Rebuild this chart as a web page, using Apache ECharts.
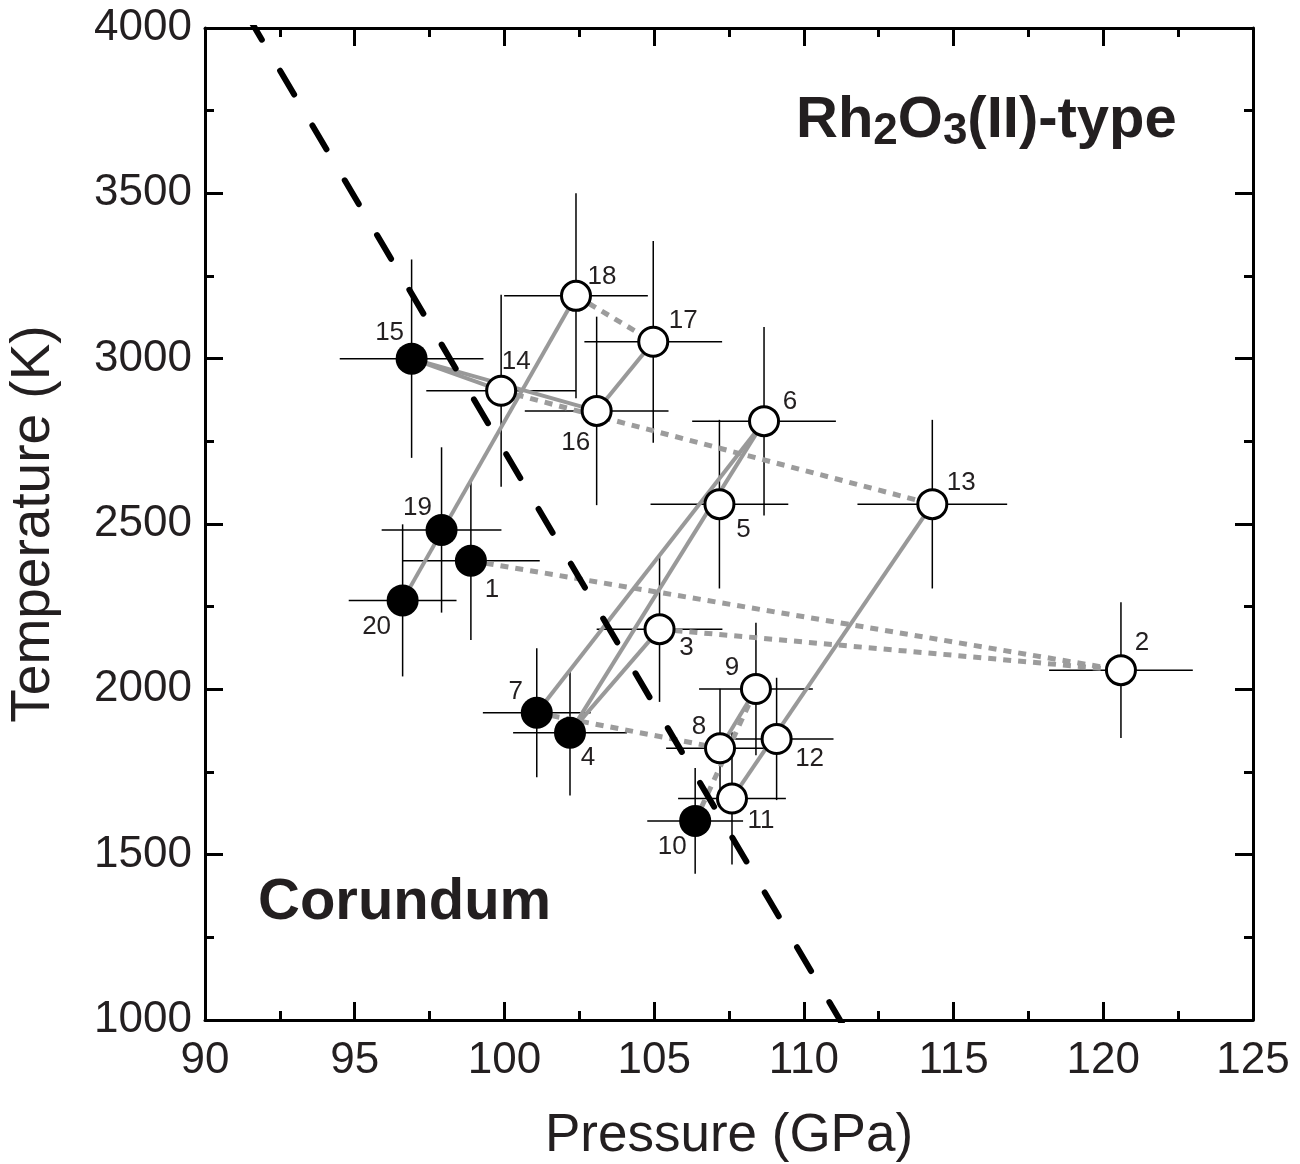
<!DOCTYPE html>
<html>
<head>
<meta charset="utf-8">
<script src="https://cdn.jsdelivr.net/npm/echarts/dist/echarts.min.js"></script>
<style>
  html, body { margin: 0; padding: 0; background: #fff; }
  #main { width: 1300px; height: 1164px; }
</style>
</head>
<body>
<div id="main"></div>
<script>
// run numbers
var runIds = [1, 2, 3, 4, 5, 6, 7, 8, 9, 10, 11, 12, 13, 14, 15, 16, 17, 18, 19, 20]
// pressure (GPa) and temperature (K)
var pressure = [98.88, 120.59, 105.18, 102.19, 107.18, 108.67, 101.08, 107.20, 108.40, 106.37,
  107.60, 109.09, 114.29, 99.89, 96.90, 103.08, 104.97, 102.39, 97.90, 96.60]
var temperature = [2389, 2058, 2182, 1869, 2560, 2811, 1929, 1822, 2001, 1602,
  1670, 1850, 2560, 2903, 3000, 2842, 3051, 3190, 2482, 2269]
// error bars
var pressureErr = [2.3, 2.4, 2.1, 1.9, 2.3, 2.4, 1.8, 1.8, 1.9, 1.6,
  1.8, 1.9, 2.5, 2.5, 2.4, 2.4, 2.3, 2.4, 2.0, 1.8]
var temperatureErr = [240, 205, 220, 190, 255, 285, 195, 180, 200, 160,
  200, 185, 255, 290, 300, 285, 305, 310, 250, 230]
// true = corundum (filled), false = Rh2O3(II) (open)
var isCorundum = [true, false, false, true, false, false, true, false, false, true,
  false, false, false, false, true, false, false, false, true, true]
// pairs of run numbers joined by lines
var solidLinks = [[15, 14], [15, 16], [20, 18], [16, 17], [7, 6], [4, 6], [4, 3], [8, 9], [11, 13]]
var dottedLinks = [[14, 13], [18, 17], [1, 2], [3, 2], [7, 8], [10, 9]]
// phase boundary (GPa, K), runs past the frame and gets clipped
var boundaryP = [91.43, 111.53]
var boundaryT = [4036.5, 950]
// where each run label sits around its marker (px)
var labelOffsets = [[21, 29], [21, -27], [27, 19], [18, 25], [24, 26], [26, -19], [-21, -21], [-21, -21], [-24, -21], [-23, 26],
  [29, 22], [33, 20], [29, -21], [15, -29], [-22, -26], [-21, 32], [30, -21], [26, -19], [-24, -22], [-26, 26]]

var FONT = "'Liberation Sans', Arial, Helvetica, sans-serif"
var INK = '#231f20'

function pt (id) {
  var i = id - 1
  return [pressure[i], temperature[i]]
}

function axisCommon (show) {
  return {
    type: 'value',
    axisLine: { show: true, onZero: false, lineStyle: { color: '#000', width: 3 } },
    axisTick: { show: true, inside: true, length: 18, lineStyle: { color: '#000', width: 3 } },
    minorTick: { show: true, splitNumber: 2, length: 9, lineStyle: { color: '#000', width: 3 } },
    splitLine: { show: false },
    axisLabel: {
      show: show, fontSize: 44, color: INK, fontFamily: FONT,
      formatter: function (v) { return String(v) }
    }
  }
}

var myChart = echarts.init(document.getElementById('main'))

var xBottom = Object.assign(axisCommon(true), {
  min: 90, max: 125, interval: 5, position: 'bottom',
  name: 'Pressure (GPa)', nameLocation: 'middle', nameGap: 90,
  nameTextStyle: { fontSize: 53, color: INK, fontFamily: FONT }
})
xBottom.axisLabel.margin = 19
var xTop = Object.assign(axisCommon(false), { min: 90, max: 125, interval: 5, position: 'top' })
var yLeft = Object.assign(axisCommon(true), {
  min: 1000, max: 4000, interval: 500, position: 'left',
  name: 'Temperature (K)', nameLocation: 'middle', nameGap: 144,
  nameTextStyle: { fontSize: 55, color: INK, fontFamily: FONT }
})
yLeft.axisLabel.margin = 13
var yRight = Object.assign(axisCommon(false), { min: 1000, max: 4000, interval: 500, position: 'right' })

var points = runIds.map(function (id, i) {
  return {
    value: [pressure[i], temperature[i]],
    symbolSize: isCorundum[i] ? 32 : 29,
    itemStyle: isCorundum[i]
      ? { color: '#000', borderColor: '#000', borderWidth: 0, opacity: 1 }
      : { color: '#fff', borderColor: '#000', borderWidth: 3, opacity: 1 },
    label: { offset: labelOffsets[i] }
  }
})

myChart.setOption({
  animation: false,
  backgroundColor: '#fff',
  grid: { left: 205, right: 47, top: 28, bottom: 144, containLabel: false, outerBoundsMode: 'none' },
  xAxis: [xBottom, xTop],
  yAxis: [yLeft, yRight],
  graphic: [
    {
      type: 'text',
      left: 796,
      top: 92,
      style: {
        text: '{a|Rh}{s|2}{a|O}{s|3}{a|(II)-type}',
        rich: {
          a: { fontSize: 58, fontWeight: 'bold', fontFamily: FONT, fill: INK, lineHeight: 66 },
          s: { fontSize: 44, fontWeight: 'bold', fontFamily: FONT, fill: INK, padding: [22, 0, 0, 0] }
        }
      }
    },
    {
      type: 'text',
      left: 258,
      top: 874,
      style: { text: 'Corundum', fontSize: 58, fontWeight: 'bold', fontFamily: FONT, fill: INK }
    }
  ],
  series: [
    {
      // error bars
      type: 'custom',
      z: 2,
      encode: { x: 0, y: 1 },
      renderItem: function (params, api) {
        var p = api.value(0)
        var t = api.value(1)
        var dp = api.value(2)
        var dt = api.value(3)
        var l = api.coord([p - dp, t])
        var r = api.coord([p + dp, t])
        var b = api.coord([p, t - dt])
        var u = api.coord([p, t + dt])
        var st = { stroke: '#000', lineWidth: 1.5 }
        return {
          type: 'group',
          children: [
            { type: 'line', shape: { x1: l[0], y1: l[1], x2: r[0], y2: r[1] }, style: st },
            { type: 'line', shape: { x1: b[0], y1: b[1], x2: u[0], y2: u[1] }, style: st }
          ]
        }
      },
      data: runIds.map(function (id, i) {
        return [pressure[i], temperature[i], pressureErr[i], temperatureErr[i]]
      })
    },
    {
      type: 'lines',
      coordinateSystem: 'cartesian2d',
      z: 3,
      lineStyle: { color: '#9c9c9c', width: 5, type: [8, 7], opacity: 1 },
      data: dottedLinks.map(function (d) { return { coords: [pt(d[0]), pt(d[1])] } })
    },
    {
      type: 'lines',
      coordinateSystem: 'cartesian2d',
      z: 4,
      lineStyle: { color: '#999', width: 4, type: 'solid', opacity: 1 },
      data: solidLinks.map(function (d) { return { coords: [pt(d[0]), pt(d[1])] } })
    },
    {
      type: 'scatter',
      z: 5,
      symbol: 'circle',
      itemStyle: { opacity: 1 },
      label: {
        show: true,
        position: 'inside',
        formatter: function (p) { return String(runIds[p.dataIndex]) },
        fontSize: 26,
        color: INK,
        fontFamily: FONT
      },
      data: points
    },
    {
      // phase boundary
      type: 'line',
      z: 6,
      clip: true,
      symbol: 'none',
      lineStyle: { color: '#000', width: 6, type: [27.6, 36], cap: 'round' },
      data: boundaryP.map(function (p, i) { return [p, boundaryT[i]] })
    }
  ]
})
</script>
</body>
</html>
